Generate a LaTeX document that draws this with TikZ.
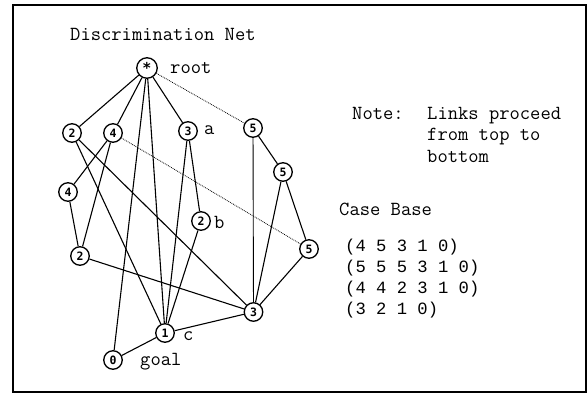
\documentclass[tikz,border=0pt]{standalone}
\usepackage{fontspec}
\setmainfont{Liberation Mono}
\newfontfamily\nodefont{DejaVu Sans Mono}
\begin{document}
\begin{tikzpicture}[x=1pt,y=-1pt,
  nd/.style={circle,draw,line width=1.3pt,minimum size=18.5pt,inner sep=0pt,font=\nodefont\bfseries\fontsize{11.5}{11.5}\selectfont},
  rootnd/.style={nd,minimum size=20.5pt,font=\nodefont\bfseries\fontsize{15}{15}\selectfont},
  lnk/.style={line width=1.1pt},
  dlnk/.style={line width=0.8pt,densely dotted},
  txt/.style={anchor=base west,inner sep=0pt,font=\ttfamily\fontsize{20}{21}\selectfont},
  tup/.style={anchor=base west,inner sep=0pt,font=\fontsize{17.2}{21}\selectfont}]
\useasboundingbox (0,0) rectangle (588,396);
% frame
\draw[line width=1.5pt] (13,5) rectangle (586,392);
\draw[line width=2.6pt] (13,5) -- (13,392);
% nodes
\node[rootnd] (r) at (147,68) {*};
\node[nd] (a2) at (72,133) {2};
\node[nd] (a4) at (113,133) {4};
\node[nd] (a3) at (188,131) {3};
\node[nd] (a5) at (253,128) {5};
\node[nd] (b5) at (283,172) {5};
\node[nd] (b4) at (68,192) {4};
\node[nd] (c2) at (80,256) {2};
\node[nd] (bb) at (201,221) {2};
\node[nd] (c5) at (309,249) {5};
\node[nd] (d3) at (253.5,312) {3};
\node[nd] (e1) at (165,333) {1};
\node[nd] (f0) at (113,360) {0};
% links
\draw[lnk] (r) -- (a2);
\draw[lnk] (r) -- (a4);
\draw[lnk] (r) -- (a3);
\draw[lnk] (r) -- (f0);
\draw[lnk] (r) -- (e1);
\draw[dlnk] (r) -- (a5);
\draw[lnk] (a2) -- (e1);
\draw[lnk] (a2) -- (d3);
\draw[lnk] (a4) -- (b4);
\draw[lnk] (a4) -- (c2);
\draw[dlnk] (a4) -- (c5);
\draw[lnk] (a3) -- (e1);
\draw[lnk] (a3) -- (bb);
\draw[lnk] (bb) -- (e1);
\draw[lnk] (a5) -- (b5);
\draw[lnk,line width=0.9pt] (a5) -- (d3);
\draw[lnk] (b5) -- (c5);
\draw[lnk] (b5) -- (d3);
\draw[lnk] (c5) -- (d3);
\draw[lnk] (b4) -- (c2);
\draw[lnk] (c2) -- (d3);
\draw[lnk] (d3) -- (e1);
\draw[lnk] (e1) -- (f0);
% labels
\node[txt] (title) at (70,41) {Discrimination Net};
\node[txt] (lroot) at (170,74) {root};
\node[txt] (la) at (204,134) {a};
\node[txt] (lb) at (214,228) {b};
\node[txt] (lc) at (183,340) {c};
\node[txt] (lgoal) at (140,365) {goal};
\node[txt] (note) at (352,119) {Note:};
\node[txt] (n1) at (427,119) {Links proceed};
\node[txt] (n2) at (427,140.5) {from top to};
\node[txt] (n3) at (427,162) {bottom};
\node[txt] (cb) at (339,215) {Case Base};
\node[tup] (t1) at (345,251) {(4 5 3 1 0)};
\node[tup] (t2) at (345,272.2) {(5 5 5 3 1 0)};
\node[tup] (t3) at (345,293.4) {(4 4 2 3 1 0)};
\node[tup] (t4) at (345,314.6) {(3 2 1 0)};
\end{tikzpicture}
\end{document}
